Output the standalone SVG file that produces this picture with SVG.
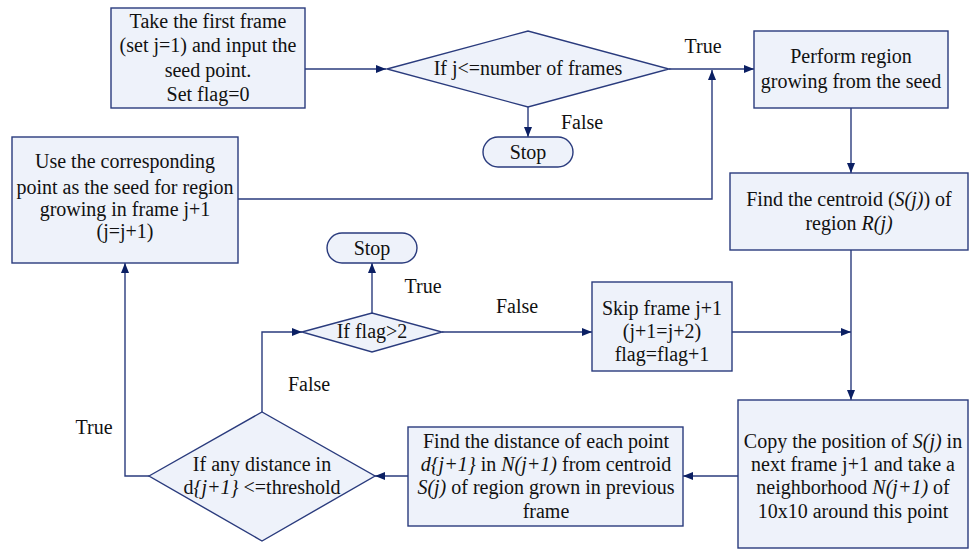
<svg xmlns="http://www.w3.org/2000/svg" width="969" height="549" viewBox="0 0 969 549">
<defs>
<marker id="arr" viewBox="0 0 10 8" refX="10" refY="4" markerWidth="10" markerHeight="8" markerUnits="userSpaceOnUse" orient="auto">
<path d="M0,0 L10,4 L0,8 Z" fill="#0b1f63"/>
</marker>
</defs>
<style>
.n{fill:#eef2fa;stroke:#2a3b7d;stroke-width:1.4}
text{font-family:'Liberation Serif','Times New Roman',Tinos,'DejaVu Serif',serif;font-size:20px;fill:#111;text-anchor:middle}
.c{fill:none;stroke:#2a3b7d;stroke-width:1.4}
.a{marker-end:url(#arr)}
.i{font-style:italic}
</style>
<rect width="969" height="549" fill="#ffffff"/>
<g id="connectors">
<path class="c a" d="M305,69 H386"/>
<path class="c a" d="M669,69 H754"/>
<path class="c a" d="M528,107 V137"/>
<path class="c a" d="M851,108 V173"/>
<path class="c a" d="M851,250 V400"/>
<path class="c a" d="M732,332 H851"/>
<path class="c a" d="M738,476 H683"/>
<path class="c a" d="M408,476 H375"/>
<path class="c a" d="M149,476 H125 V263"/>
<path class="c a" d="M262,412 V332 H302"/>
<path class="c a" d="M372,313 V263"/>
<path class="c a" d="M442,332 H592"/>
<path class="c a" d="M238,199 H712 V70"/>
<text x="703" y="53">True</text>
<text x="582" y="129">False</text>
<text x="423" y="293">True</text>
<text x="517" y="313">False</text>
<text x="309" y="391">False</text>
<text x="94" y="434">True</text>
</g>
<g id="start">
<rect class="n" x="111" y="8" width="194" height="100"/>
<text x="208" y="28">Take the first frame</text>
<text x="208" y="52">(set j=1) and input the</text>
<text x="208" y="77">seed point.</text>
<text x="208" y="101">Set flag=0</text>
</g>
<g id="cond-frames">
<polygon class="n" points="387,69 528,31 669,69 528,107"/>
<text x="528" y="75">If j&lt;=number of frames</text>
</g>
<g id="stop1">
<rect class="n" x="483" y="137" width="90" height="30" rx="15" ry="15"/>
<text x="528" y="159">Stop</text>
</g>
<g id="grow">
<rect class="n" x="754" y="31" width="194" height="77"/>
<text x="851" y="63">Perform region</text>
<text x="851" y="88">growing from the seed</text>
</g>
<g id="centroid">
<rect class="n" x="730" y="173" width="238" height="77"/>
<text x="849" y="206">Find the centroid (<tspan class="i">S(j)</tspan>) of</text>
<text x="849" y="230">region <tspan class="i">R(j)</tspan></text>
</g>
<g id="copy">
<rect class="n" x="738" y="400" width="230" height="148"/>
<text x="853" y="448">Copy the position of <tspan class="i">S(j)</tspan> in</text>
<text x="853" y="471">next frame j+1 and take a</text>
<text x="853" y="494">neighborhood <tspan class="i">N(j+1)</tspan> of</text>
<text x="853" y="518">10x10 around this point</text>
</g>
<g id="distance">
<rect class="n" x="408" y="427" width="275" height="99"/>
<text x="546" y="448">Find the distance of each point</text>
<text x="546" y="471"><tspan class="i">d{j+1}</tspan> in <tspan class="i">N(j+1)</tspan>  from centroid</text>
<text x="546" y="494"><tspan class="i">S(j)</tspan> of region grown in previous</text>
<text x="546" y="518">frame</text>
</g>
<g id="cond-threshold">
<polygon class="n" points="149,476 262,412 375,476 262,541"/>
<text x="262" y="471">If any distance in</text>
<text x="262" y="494">d<tspan class="i">{j+1}</tspan> &lt;=threshold</text>
</g>
<g id="cond-flag">
<polygon class="n" points="302,332 372,313 442,332 372,352"/>
<text x="372" y="338">If flag&gt;2</text>
</g>
<g id="stop2">
<rect class="n" x="327" y="233" width="90" height="30" rx="15" ry="15"/>
<text x="372" y="255">Stop</text>
</g>
<g id="skip">
<rect class="n" x="592" y="282" width="140" height="89"/>
<text x="662" y="315">Skip frame j+1</text>
<text x="662" y="338">(j+1=j+2)</text>
<text x="662" y="361">flag=flag+1</text>
</g>
<g id="seed">
<rect class="n" x="12" y="137" width="226" height="126"/>
<text x="125" y="168">Use the corresponding</text>
<text x="125" y="194">point as the seed for region</text>
<text x="125" y="216">growing in frame j+1</text>
<text x="125" y="238">(j=j+1)</text>
</g>
</svg>
